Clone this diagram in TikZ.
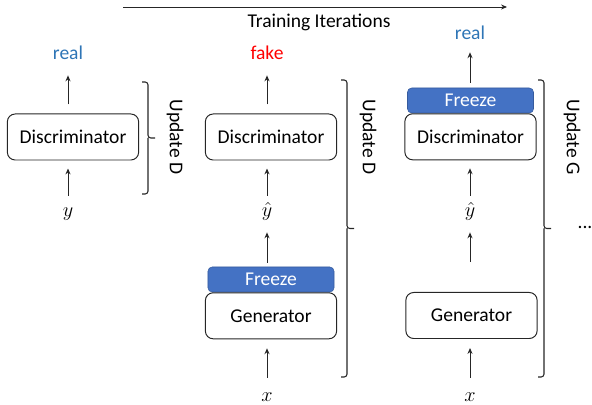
\documentclass[tikz,border=0pt]{standalone}
\usepackage{fontspec}
\setmainfont{Carlito}
\usetikzlibrary{arrows.meta,positioning}
\definecolor{realblue}{HTML}{2E75B6}
\definecolor{freezeblue}{HTML}{4472C4}
\begin{document}
\begin{tikzpicture}[x=0.025cm, y=-0.025cm,
		font=\fontsize{13.9}{16}\selectfont,
		box/.style={draw=black!85, line width=0.7pt, rounded corners=5.5pt, minimum width=3.28cm,
			minimum height=1.15cm, inner sep=0pt},
		freeze/.style={draw=freezeblue!80!black, fill=freezeblue, text=white,
			rounded corners=3pt, minimum width=3.15cm, minimum height=0.625cm, inner sep=0pt},
		lab/.style={inner sep=0pt, text height=10pt, text depth=3pt, font=\fontsize{15.5}{17}\selectfont},
		arr/.style={draw=black!85, line width=0.7pt, -{Stealth[length=4.2pt,width=3.6pt]}},
		brc/.style={draw=black!85, line width=0.75pt, rounded corners=2pt},
		upd/.style={rotate=-90}]
		\useasboundingbox (0,0) rectangle (592,405);

		\coordinate (t0) at (123,7);
		\coordinate (t1) at (507,7);
		\draw[arr] (t0) -- (t1);
		\node (train) at (319,22) {Training Iterations};

		\node[box] (d1) at (73,137) {Discriminator};
		\node[lab, text=realblue, font=\fontsize{13.9}{16}\selectfont] (real1) at (68,55) {real};
		\node[lab] (y1) at (68,212) {$y$};
		\draw[arr, shorten <=6.4pt, shorten >=7.8pt] (real1 |- d1.north) -- (real1);
		\draw[arr, shorten <=4.9pt, shorten >=5.7pt] (y1) -- (y1 |- d1.south);
		\node[upd] (upd1) at (175,137) {Update D};

		\node[box] (d2) at (271,137) {Discriminator};
		\node[lab, text=red, font=\fontsize{13.9}{16}\selectfont] (fake2) at (267,55) {fake};
		\node[lab] (yh2) at (267,212) {$\hat{y}$};
		\node[freeze] (f2) at (271,279.5) {Freeze};
		\node[box, below=0pt of f2] (g2) {Generator};
		\node[lab] (x2) at (267,397) {$x$};
		\draw[arr, shorten <=6.4pt, shorten >=7.8pt] (fake2 |- d2.north) -- (fake2);
		\draw[arr, shorten <=4.9pt, shorten >=5.7pt] (yh2) -- (yh2 |- d2.south);
		\draw[arr, shorten <=2.8pt, shorten >=7.8pt] (yh2 |- f2.north) -- (yh2);
		\draw[arr, shorten <=7pt, shorten >=6.4pt] (x2) -- (x2 |- g2.south);
		\node[upd] (upd2) at (368,137) {Update D};

		\node[freeze] (f3) at (470.5,100.5) {Freeze};
		\node[box, below=0pt of f3] (d3) {Discriminator};
		\node[lab, text=realblue, font=\fontsize{13.9}{16}\selectfont] (real3) at (470,35) {real};
		\node[lab] (yh3) at (470,212) {$\hat{y}$};
		\node[box] (g3) at (471.5,315.5) {Generator};
		\node[lab] (x3) at (470,397) {$x$};
		\draw[arr, shorten <=3.6pt, shorten >=5.6pt] (real3 |- f3.north) -- (real3);
		\draw[arr, shorten <=4.9pt, shorten >=5.7pt] (yh3) -- (yh3 |- d3.south);
		\draw[arr, shorten <=21.3pt, shorten >=7.8pt] (yh3 |- g3.north) -- (yh3);
		\draw[arr, shorten <=7pt, shorten >=6.4pt] (x3) -- (x3 |- g3.south);
		\node[upd] (upd3) at (572,137) {Update G};
		\node (dots) at (585,227) {...};

		\foreach \bx/\bt/\bb in {142/82/194, 341/80/377, 538/80/377}
			\draw[brc] (\bx,\bt) -- (\bx+6,\bt) -- (\bx+6,{(\bt+\bb)/2}) -- (\bx+13,{(\bt+\bb)/2})
				(\bx+6,{(\bt+\bb)/2}) -- (\bx+6,\bb) -- (\bx,\bb);
	\end{tikzpicture}
\end{document}
